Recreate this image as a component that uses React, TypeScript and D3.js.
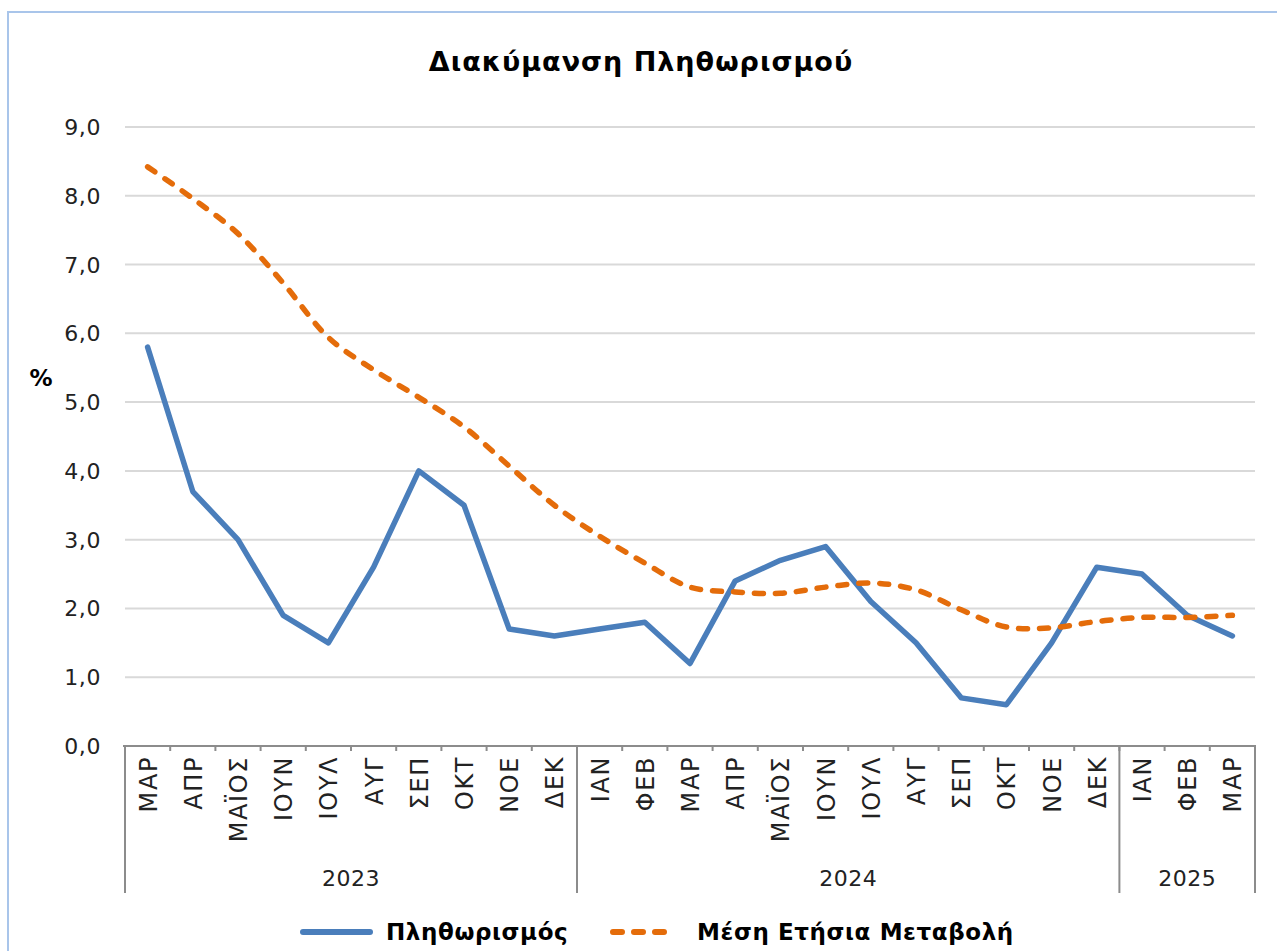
import React, { useEffect, useRef } from 'react';
import * as d3 from 'd3';

const months = [
  'ΜΑΡ', 'ΑΠΡ', 'ΜΑΪΟΣ', 'ΙΟΥΝ', 'ΙΟΥΛ', 'ΑΥΓ', 'ΣΕΠ', 'ΟΚΤ', 'ΝΟΕ', 'ΔΕΚ',
  'ΙΑΝ', 'ΦΕΒ', 'ΜΑΡ', 'ΑΠΡ', 'ΜΑΪΟΣ', 'ΙΟΥΝ', 'ΙΟΥΛ', 'ΑΥΓ', 'ΣΕΠ', 'ΟΚΤ', 'ΝΟΕ', 'ΔΕΚ',
  'ΙΑΝ', 'ΦΕΒ', 'ΜΑΡ',
];
const years = ['2023', '2024', '2025'];
const yearSpans = [10, 12, 3];

const inflation = [
  5.8, 3.7, 3.0, 1.9, 1.5, 2.6, 4.0, 3.5, 1.7, 1.6,
  1.7, 1.8, 1.2, 2.4, 2.7, 2.9, 2.1, 1.5, 0.7, 0.6, 1.5, 2.6,
  2.5, 1.9, 1.6,
];
const avgAnnual = [
  8.42, 7.96, 7.45, 6.73, 5.94, 5.47, 5.07, 4.64, 4.07, 3.5,
  3.05, 2.66, 2.31, 2.24, 2.22, 2.31, 2.37, 2.27, 1.98, 1.73, 1.72, 1.81,
  1.87, 1.87, 1.9,
];
const yTicks = [0, 1, 2, 3, 4, 5, 6, 7, 8, 9];

const W = 1277;
const H = 951;
const BLUE = '#4a7ebb';
const ORANGE = '#e46c0a';
const FONT = '"DejaVu Sans", Verdana, sans-serif';

const App: React.FC = () => {
  const svgRef = useRef<SVGSVGElement>(null);

  useEffect(() => {
    if (!svgRef.current) return;
    const svg = d3.select(svgRef.current);
    svg.selectAll('*').remove();

    const left = 125, right = 1255, top = 127, bottom = 746;
    const axisBottom = 893;

    const x = d3.scaleBand<number>()
      .domain(d3.range(months.length))
      .range([left, right])
      .padding(0);
    const y = d3.scaleLinear().domain([0, 9]).range([bottom, top]);
    const cx = (i: number) => (x(i) || 0) + x.bandwidth() / 2;

    // chart border
    svg.append('rect')
      .attr('x', 8).attr('y', 12).attr('width', 1400).attr('height', 1200)
      .attr('fill', '#fff').attr('stroke', '#a9c5ea').attr('stroke-width', 2);

    // title
    svg.append('text')
      .attr('x', 641).attr('y', 71)
      .attr('text-anchor', 'middle')
      .attr('font-family', FONT)
      .attr('font-weight', 'bold')
      .attr('font-size', 27)
      .attr('letter-spacing', 1)
      .text('Διακύμανση Πληθωρισμού');

    // gridlines
    svg.append('g')
      .selectAll('line')
      .data(yTicks.filter(t => t > 0))
      .enter()
      .append('line')
      .attr('x1', left).attr('x2', right)
      .attr('y1', d => y(d)).attr('y2', d => y(d))
      .attr('stroke', '#d9d9d9').attr('stroke-width', 2);

    // y tick labels
    svg.append('g')
      .selectAll('text')
      .data(yTicks)
      .enter()
      .append('text')
      .attr('x', 101)
      .attr('y', d => y(d) + 8)
      .attr('text-anchor', 'end')
      .attr('font-family', FONT)
      .attr('font-size', 22)
      .attr('letter-spacing', 0.6)
      .attr('fill', '#222')
      .text(d => d3.format('.1f')(d).replace('.', ','));

    svg.append('text')
      .attr('x', 41).attr('y', 386)
      .attr('text-anchor', 'middle')
      .attr('font-family', FONT)
      .attr('font-weight', 'bold')
      .attr('font-size', 23)
      .text('%');

    // x axis frame
    const axisG = svg.append('g').attr('stroke', '#8c8c8c').attr('stroke-width', 2);
    axisG.append('line')
      .attr('x1', left - 2).attr('x2', right + 1)
      .attr('y1', bottom).attr('y2', bottom);
    axisG.selectAll('.tick')
      .data(d3.range(1, months.length))
      .enter()
      .append('line')
      .attr('x1', d => x(d) || 0).attr('x2', d => x(d) || 0)
      .attr('y1', bottom).attr('y2', bottom + 5);

    let acc = 0;
    const bounds = [0, ...yearSpans.map(s => (acc += s))];
    axisG.selectAll('.sep')
      .data(bounds)
      .enter()
      .append('line')
      .attr('x1', d => (d === months.length ? right : x(d) || 0))
      .attr('x2', d => (d === months.length ? right : x(d) || 0))
      .attr('y1', bottom).attr('y2', axisBottom);

    // month labels
    svg.append('g')
      .selectAll('text')
      .data(months)
      .enter()
      .append('text')
      .attr('transform', (d, i) => `translate(${cx(i) + 9},${bottom + 10}) rotate(-90)`)
      .attr('text-anchor', 'end')
      .attr('font-family', FONT)
      .attr('font-size', 24)
      .attr('letter-spacing', 1.6)
      .attr('fill', '#222')
      .text(d => d);

    // year labels
    svg.append('g')
      .selectAll('text')
      .data(years)
      .enter()
      .append('text')
      .attr('x', (d, i) => {
        const a = x(bounds[i]) || 0;
        const b = bounds[i + 1] === months.length ? right : x(bounds[i + 1]) || 0;
        return (a + b) / 2;
      })
      .attr('y', 886)
      .attr('text-anchor', 'middle')
      .attr('font-family', FONT)
      .attr('font-size', 22)
      .attr('letter-spacing', 0.5)
      .attr('fill', '#222')
      .text(d => d);

    // lines
    const blueLine = d3.line<number>()
      .x((d, i) => cx(i))
      .y(d => y(d));
    svg.append('path')
      .datum(inflation)
      .attr('d', blueLine)
      .attr('fill', 'none')
      .attr('stroke', BLUE)
      .attr('stroke-width', 5.5)
      .attr('stroke-linejoin', 'round')
      .attr('stroke-linecap', 'round');

    const orangeLine = d3.line<number>()
      .curve(d3.curveCatmullRom.alpha(0.5))
      .x((d, i) => cx(i))
      .y(d => y(d));
    svg.append('path')
      .datum(avgAnnual)
      .attr('d', orangeLine)
      .attr('fill', 'none')
      .attr('stroke', ORANGE)
      .attr('stroke-width', 5.5)
      .attr('stroke-dasharray', '9 12')
      .attr('stroke-linecap', 'round');

    // legend
    const legY = 932;
    const lg = svg.append('g');
    lg.append('line')
      .attr('x1', 303).attr('x2', 370).attr('y1', legY).attr('y2', legY)
      .attr('stroke', BLUE).attr('stroke-width', 6).attr('stroke-linecap', 'round');
    lg.append('text')
      .attr('x', 386).attr('y', legY + 8)
      .attr('font-family', FONT).attr('font-weight', 'bold').attr('font-size', 23)
      .attr('letter-spacing', 0.6)
      .text('Πληθωρισμός');
    lg.append('line')
      .attr('x1', 613).attr('x2', 672).attr('y1', legY).attr('y2', legY)
      .attr('stroke', ORANGE).attr('stroke-width', 6)
      .attr('stroke-dasharray', '9 12').attr('stroke-linecap', 'round');
    lg.append('text')
      .attr('x', 697).attr('y', legY + 8)
      .attr('font-family', FONT).attr('font-weight', 'bold').attr('font-size', 23)
      .attr('letter-spacing', 0.6)
      .text('Μέση Ετήσια Μεταβολή');
  }, []);

  return (
    <svg
      ref={svgRef}
      width={W}
      height={H}
      style={{ position: 'absolute', left: 0, top: 0, display: 'block', background: '#fff' }}
    />
  );
};

export default App;
